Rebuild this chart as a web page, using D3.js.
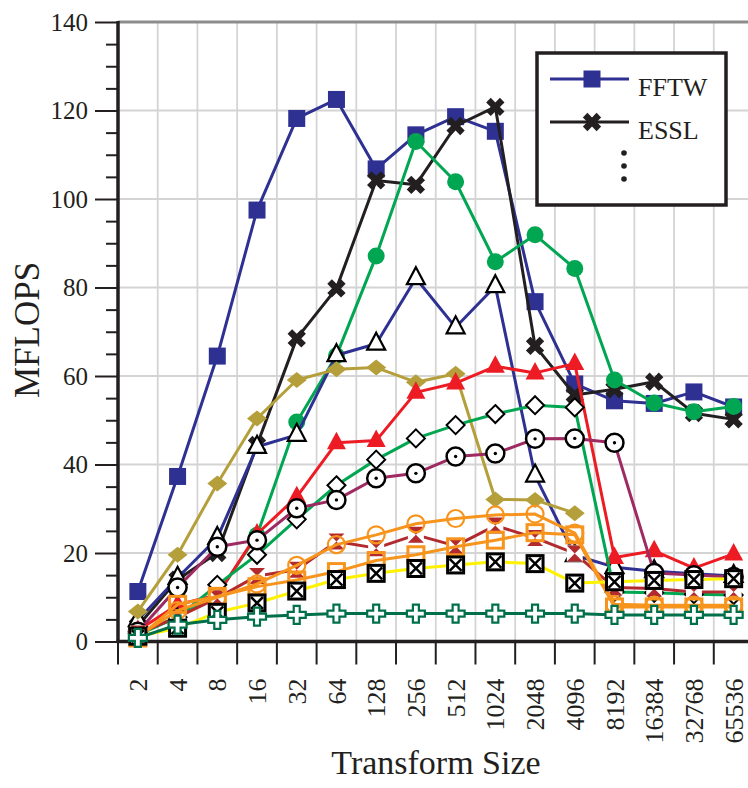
<!DOCTYPE html>
<html>
<head>
<meta charset="utf-8">
<script src="https://cdn.jsdelivr.net/npm/d3@7"></script>
<style>
  body { margin: 0; background: #fff; }
  text { font-family: "Liberation Serif", "DejaVu Serif", serif; fill: #231f20; }
</style>
</head>
<body>
<svg id="chart" width="748" height="788"></svg>
<script>
var sizes = ["2", "4", "8", "16", "32", "64", "128", "256", "512", "1024", "2048", "4096", "8192", "16384", "32768", "65536"];
var yTicks = [0, 20, 40, 60, 80, 100, 120, 140];

var fftw = [11.3, 37.3, 64.5, 97.5, 118.2, 122.5, 106.8, 114.5, 118.6, 115.3, 76.8, 58.2, 54.4, 53.8, 56.4, 53];
var essl = [3.5, 14, 20, 44.4, 68.5, 79.8, 104.2, 103.2, 116.5, 120.8, 66.8, 55.7, 57, 58.7, 51.6, 50.2];
var greenCirc = [1.5, 5.5, 10.5, 24, 49.6, 64.6, 87.1, 113, 103.9, 85.8, 91.9, 84.3, 59.1, 53.9, 51.9, 53.1];
var blueTri = [4.8, 14.4, 23.4, 44, 46.7, 64.7, 67.3, 82.1, 71, 80.3, 37.5, 19.5, 16.8, 15.9, 15.3, 14.8];
var goldDia = [6.8, 19.6, 35.7, 50.4, 59.1, 61.5, 61.9, 58.6, 60.5, 32.1, 32, 29];
var redTri = [2.5, 8.3, 10.5, 24.3, 32.7, 44.9, 45.4, 56.3, 58.4, 62.2, 60.7, 62.8, 19, 20.5, 16.6, 19.8];
var greenDia = [1.8, 5.5, 12.8, 19.6, 27.6, 35.3, 41.1, 45.9, 48.9, 51.4, 53.4, 52.9, 11.2, 11, 10.7, 10.5];
var maroonDot = [2.2, 12.2, 21.4, 22.9, 30.1, 32, 36.9, 38, 41.8, 42.5, 45.8, 45.9, 44.9, 15.5, 15, 14.6];
var brickHour = [1.8, 5.5, 9.8, 14.8, 16.2, 22.6, 21.1, 24.1, 21.6, 26.2, 23.4, 19.9, 12.2, 12, 11.2, 11.2];
var orangeCirc = [1.2, 7, 10, 13, 17.2, 21.9, 24.1, 26.6, 27.8, 28.6, 28.8, 24.5, 8.4, 8.2, 8.2, 8.2];
var orangeSq = [0.8, 8.4, 10.2, 12.4, 13.9, 15.8, 18.3, 19.6, 21.4, 22.9, 24.6, 24.1, 7.8, 7.8, 7.8, 7.8];
var yellowBox = [1.2, 3, 6.6, 8.7, 11.4, 14, 15.4, 16.5, 17.3, 18, 17.6, 13.2, 13.5, 13.8, 14, 14.2];
var greenPlus = [0.8, 3.8, 4.9, 5.6, 6, 6.3, 6.3, 6.3, 6.3, 6.3, 6.3, 6.3, 6, 6, 6, 6];

var series = [
    { values: fftw, color: "#2e3192", mark: "sq" },
    { values: essl, color: "#231f20", mark: "x" },
    { values: greenCirc, color: "#00a651", mark: "circ" },
    { values: blueTri, color: "#2e3192", mark: "otri" },
    { values: goldDia, color: "#b59f3b", mark: "dia" },
    { values: redTri, color: "#ed1c24", mark: "tri" },
    { values: greenDia, color: "#00a651", mark: "odia" },
    { values: maroonDot, color: "#9e2a62", mark: "dot" },
    { values: brickHour, color: "#b22a2e", mark: "hour" },
    { values: orangeCirc, color: "#f7941d", mark: "ocirc" },
    { values: orangeSq, color: "#f7941d", mark: "osq" },
    { values: yellowBox, color: "#fff200", mark: "box" },
    { values: greenPlus, color: "#00704a", mark: "plus" }
];

var svg = d3.select("#chart");
var plotLeft = 118, plotTop = 22, plotBottom = 641.5, plotRight = 753.5;

var x = d3.scaleBand().domain(sizes).range([plotLeft, plotRight]).padding(0);
var xc = function (s) { return x(s) + x.bandwidth() / 2; };
var y = d3.scaleLinear().domain([0, 140]).range([plotBottom, plotTop]);

// grid
var grid = svg.append("g");
grid.selectAll("line.v").data(sizes).enter().append("line")
    .attr("x1", function (d) { return x(d) + x.bandwidth(); })
    .attr("x2", function (d) { return x(d) + x.bandwidth(); })
    .attr("y1", plotTop).attr("y2", plotBottom)
    .attr("stroke", "#d4d4d4").attr("stroke-width", 1.8);
grid.selectAll("line.h").data(yTicks).enter().append("line")
    .attr("x1", plotLeft).attr("x2", 748)
    .attr("y1", function (d) { return y(d); })
    .attr("y2", function (d) { return y(d); })
    .attr("stroke", "#d4d4d4").attr("stroke-width", 1.8);
svg.append("line").attr("x1", plotLeft).attr("x2", 748).attr("y1", plotTop).attr("y2", plotTop)
    .attr("stroke", "#8c8c8c").attr("stroke-width", 3);

// y axis
var yAxis = svg.append("g").attr("transform", "translate(" + plotLeft + ",0)")
    .call(d3.axisLeft(y).tickValues(d3.range(0, 141, 5)).tickSize(23).tickPadding(7)
        .tickFormat(function (d) { return d % 20 ? "" : d; }));
yAxis.select(".domain").remove();
yAxis.selectAll(".tick line").attr("stroke", "#231f20").attr("stroke-width", 2)
    .filter(function (d) { return d % 20 != 0; }).attr("x2", -12);
yAxis.selectAll(".tick text").attr("font-size", "25px").attr("font-family", "Liberation Serif").attr("fill", "#231f20");

// x axis
var xAxis = svg.append("g").attr("transform", "translate(0," + plotBottom + ")")
    .call(d3.axisBottom(x).tickSize(0).tickPadding(0));
xAxis.select(".domain").remove();
xAxis.selectAll(".tick text")
    .attr("font-size", "26px").attr("font-family", "Liberation Serif").attr("fill", "#231f20")
    .attr("transform", "rotate(-90)")
    .attr("text-anchor", "end")
    .attr("x", -37).attr("y", 0).attr("dy", "0.35em");
svg.append("g").selectAll("line").data(sizes).enter().append("line")
    .attr("x1", function (d) { return x(d); })
    .attr("x2", function (d) { return x(d); })
    .attr("y1", plotBottom).attr("y2", plotBottom + 23)
    .attr("stroke", "#231f20").attr("stroke-width", 2);

svg.append("line").attr("x1", plotLeft).attr("x2", plotLeft).attr("y1", plotTop - 1).attr("y2", plotBottom + 1.5)
    .attr("stroke", "#231f20").attr("stroke-width", 3.5);
svg.append("line").attr("x1", plotLeft - 1.5).attr("x2", 748).attr("y1", plotBottom).attr("y2", plotBottom)
    .attr("stroke", "#231f20").attr("stroke-width", 3.5);

// titles
svg.append("text").attr("transform", "translate(39,330) rotate(-90)")
    .attr("text-anchor", "middle").attr("font-size", "35px").text("MFLOPS");
svg.append("text").attr("x", 436).attr("y", 774)
    .attr("text-anchor", "middle").attr("font-size", "34px").text("Transform Size");

// markers
var drawMark = function (g, type, color) {
    if (type == "sq") {
        g.append("rect").attr("x", -8.5).attr("y", -8.5).attr("width", 17).attr("height", 17).attr("fill", color);
    } else if (type == "x") {
        g.append("path").attr("d", d3.symbol(d3.symbolCross, 210)()).attr("transform", "rotate(45)").attr("fill", color);
    } else if (type == "circ") {
        g.append("circle").attr("r", 8.5).attr("fill", color);
    } else if (type == "otri") {
        g.append("path").attr("d", "M0,-11L9,6L-9,6Z").attr("fill", "#fff").attr("stroke", "#000").attr("stroke-width", 2.2);
    } else if (type == "tri") {
        g.append("path").attr("d", "M0,-11L9.5,6.5L-9.5,6.5Z").attr("fill", color);
    } else if (type == "dia") {
        g.append("path").attr("d", "M0,-8L10,0L0,8L-10,0Z").attr("fill", color);
    } else if (type == "odia") {
        g.append("path").attr("d", "M0,-9L9,0L0,9L-9,0Z").attr("fill", "#fff").attr("stroke", "#000").attr("stroke-width", 2);
    } else if (type == "dot") {
        g.append("circle").attr("r", 9).attr("fill", "#fff").attr("stroke", "#000").attr("stroke-width", 2.5);
        g.append("circle").attr("r", 1.7).attr("fill", "#000");
    } else if (type == "hour") {
        g.append("rect").attr("x", -8).attr("y", -8).attr("width", 16).attr("height", 16).attr("fill", "#fff");
        g.append("path").attr("d", "M-8,-8L8,-8L0,0L8,8L-8,8L0,0Z").attr("fill", color);
    } else if (type == "ocirc") {
        g.append("circle").attr("r", 8.5).attr("fill", "none").attr("stroke", color).attr("stroke-width", 2.2);
    } else if (type == "osq") {
        g.append("rect").attr("x", -8).attr("y", -8).attr("width", 16).attr("height", 16)
            .attr("fill", "none").attr("stroke", color).attr("stroke-width", 3);
    } else if (type == "box") {
        g.append("rect").attr("x", -8).attr("y", -8).attr("width", 16).attr("height", 16)
            .attr("fill", "#fff").attr("stroke", "#000").attr("stroke-width", 3);
        g.append("path").attr("d", "M-6,-6L6,6M6,-6L-6,6").attr("stroke", "#000").attr("stroke-width", 2.5);
    } else if (type == "plus") {
        g.append("path").attr("d", "M-3,-9H3V-3H9V3H3V9H-3V3H-9V-3H-3Z")
            .attr("fill", "#fff").attr("stroke", color).attr("stroke-width", 2.2);
    }
};

var line = d3.line()
    .x(function (d, i) { return xc(sizes[i]); })
    .y(function (d) { return y(d); });

var plot = svg.append("g");
series.forEach(function (s) {
    var g = plot.append("g");
    g.append("path").datum(s.values).attr("d", line)
        .attr("fill", "none").attr("stroke", s.color).attr("stroke-width", 3)
        .attr("stroke-linejoin", "round");
    g.selectAll("g.m").data(s.values).enter().append("g")
        .attr("transform", function (d, i) { return "translate(" + xc(sizes[i]) + "," + y(d) + ")"; })
        .each(function () { drawMark(d3.select(this), s.mark, s.color); });
});

// legend
var legend = svg.append("g");
legend.append("rect").attr("x", 537).attr("y", 53).attr("width", 189).attr("height", 152)
    .attr("fill", "#fff").attr("stroke", "#231f20").attr("stroke-width", 3.5);
[{ name: "FFTW", s: series[0], yy: 79 }, { name: "ESSL", s: series[1], yy: 122 }].forEach(function (e) {
    legend.append("line").attr("x1", 550).attr("x2", 629).attr("y1", e.yy).attr("y2", e.yy)
        .attr("stroke", e.s.color).attr("stroke-width", 3);
    drawMark(legend.append("g").attr("transform", "translate(592," + e.yy + ")"), e.s.mark, e.s.color);
    legend.append("text").attr("x", 638).attr("y", e.yy + 17).attr("font-size", "26px").text(e.name);
});
legend.selectAll("circle.d").data([153, 166, 179]).enter().append("circle")
    .attr("cx", 624).attr("cy", function (d) { return d; }).attr("r", 2.8).attr("fill", "#231f20");
</script>
</body>
</html>
